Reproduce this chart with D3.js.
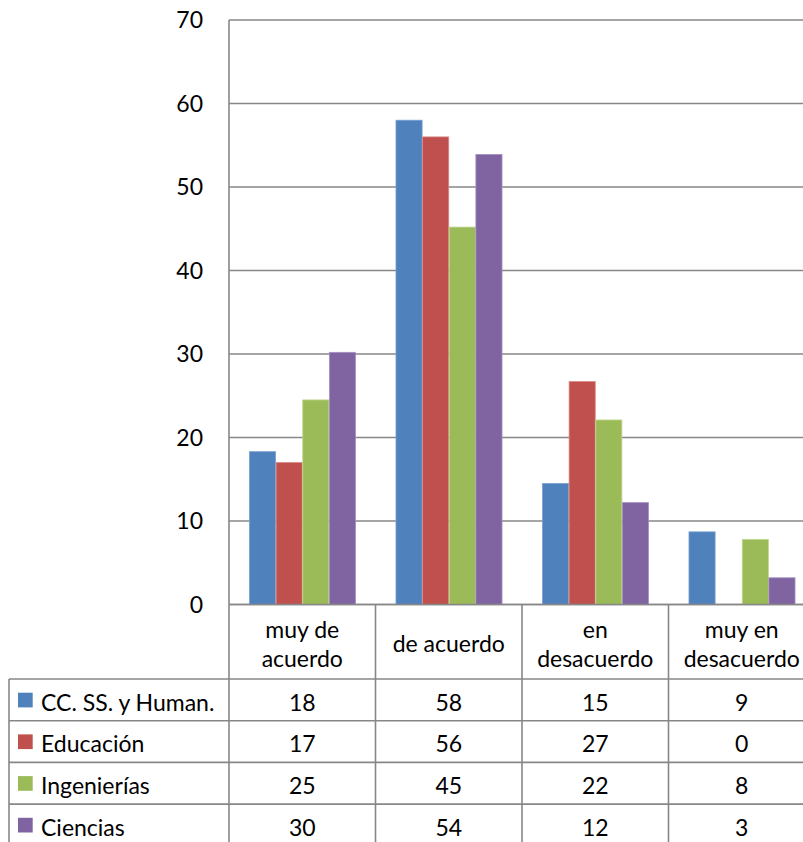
<!DOCTYPE html>
<html><head><meta charset="utf-8">
<script src="https://cdn.jsdelivr.net/npm/d3@7"></script>
<style>html,body{margin:0;padding:0;background:#fff;overflow:hidden}</style>
</head><body>
<svg id="c" width="803" height="842"></svg>
<script>
const categories = [["muy de","acuerdo"],["de acuerdo"],["en","desacuerdo"],["muy en","desacuerdo"]];
const seriesNames = ["CC. SS. y Human.","Educación","Ingenierías","Ciencias"];
const ccss = [18.3, 58.0, 14.5, 8.7];
const educacion = [17.0, 56.0, 26.7, 0];
const ingenierias = [24.5, 45.2, 22.1, 7.8];
const ciencias = [30.2, 53.9, 12.2, 3.2];
const tableCcss = ["18","58","15","9"];
const tableEducacion = ["17","56","27","0"];
const tableIngenierias = ["25","45","22","8"];
const tableCiencias = ["30","54","12","3"];
const yTicks = [0,10,20,30,40,50,60,70];
const colors = ["#4F81BD","#C0504D","#9BBB59","#8064A2"];
const strokes = ["#7BA0D0","#D98A88","#BFD68F","#A590C0"];

(function(){
const values = [ccss, educacion, ingenierias, ciencias];
const tableVals = [tableCcss, tableEducacion, tableIngenierias, tableCiencias];

const svg = d3.select("#c");
const font = "Lato, 'Open Sans', sans-serif";
const fs = 23;
const pLeft = 229, pRight = 815, pTop = 20, zero = 604.5;
const grid = "#878787";

const x0 = d3.scaleBand().domain(d3.range(categories.length)).range([pLeft, pRight]).paddingInner(0).paddingOuter(0);
const x1 = d3.scaleBand().domain(d3.range(seriesNames.length)).range([0, x0.bandwidth()]).paddingInner(0).paddingOuter(0.75);
const y = d3.scaleLinear().domain([0,70]).range([zero, pTop]);

svg.append("g").selectAll("line").data(yTicks).join("line")
  .attr("x1", pLeft).attr("x2", pRight)
  .attr("y1", d => y(d)).attr("y2", d => y(d))
  .attr("stroke", grid).attr("stroke-width", 1.6);

svg.append("g").selectAll("text").data(yTicks).join("text")
  .attr("x", 203).attr("y", d => y(d) + 8.3)
  .attr("text-anchor", "end").attr("font-family", font).attr("font-size", fs)
  .attr("fill", "#000").text(d => d);

const groups = svg.append("g").selectAll("g").data(values).join("g");
groups.each(function(vals, si) {
  d3.select(this).selectAll("rect").data(vals).join("rect")
    .attr("x", (d, ci) => x0(ci) + x1(si) + 0.5)
    .attr("width", x1.bandwidth() - 0.5)
    .attr("y", d => y(d))
    .attr("height", d => y(0) - y(d))
    .attr("fill", colors[si])
    .attr("stroke", d => d > 0 ? strokes[si] : "none").attr("stroke-width", 0.8);
});

const rowTop = zero, headerBottom = 679;
const rowH = 41.7;
const rowYs = d3.range(seriesNames.length + 1).map(i => headerBottom + i * rowH);
const tableLeft = 9;

svg.append("line").attr("x1", pLeft).attr("x2", pLeft).attr("y1", pTop).attr("y2", 842)
  .attr("stroke", grid).attr("stroke-width", 1.6);
svg.append("g").selectAll("line").data(d3.range(1, categories.length + 1)).join("line")
  .attr("x1", d => x0(0) + d * x0.step()).attr("x2", d => x0(0) + d * x0.step())
  .attr("y1", rowTop).attr("y2", 842)
  .attr("stroke", grid).attr("stroke-width", 1.6);
svg.append("line").attr("x1", tableLeft).attr("x2", tableLeft).attr("y1", headerBottom).attr("y2", 842)
  .attr("stroke", grid).attr("stroke-width", 1.6);
svg.append("g").selectAll("line").data(rowYs).join("line")
  .attr("x1", tableLeft).attr("x2", pRight)
  .attr("y1", d => d).attr("y2", d => d)
  .attr("stroke", grid).attr("stroke-width", 1.6);
svg.append("line").attr("x1", pLeft).attr("x2", pRight).attr("y1", zero).attr("y2", zero)
  .attr("stroke", grid).attr("stroke-width", 1.6);

categories.forEach((lines, ci) => {
  const cx = x0(ci) + x0.bandwidth() / 2;
  const base = 652;
  lines.forEach((t, li) => {
    svg.append("text").attr("x", cx).attr("y", base + (li - (lines.length - 1) / 2) * 29)
      .attr("text-anchor", "middle")
      .attr("font-family", font).attr("font-size", fs).attr("fill", "#000").text(t);
  });
});

seriesNames.forEach((name, si) => {
  const rt = rowYs[si];
  svg.append("rect").attr("x", 18).attr("y", rt + 13.7).attr("width", 14.7).attr("height", 14.7).attr("fill", colors[si]);
  svg.append("text").attr("x", 41).attr("y", rt + 31.7)
    .attr("font-family", font).attr("font-size", fs).attr("fill", "#000").text(name);
  tableVals[si].forEach((v, ci) => {
    svg.append("text").attr("x", x0(ci) + x0.bandwidth() / 2).attr("y", rt + 31.7)
      .attr("text-anchor", "middle").attr("font-family", font).attr("font-size", fs)
      .attr("fill", "#000").text(v);
  });
});
})();
</script>
</body></html>
